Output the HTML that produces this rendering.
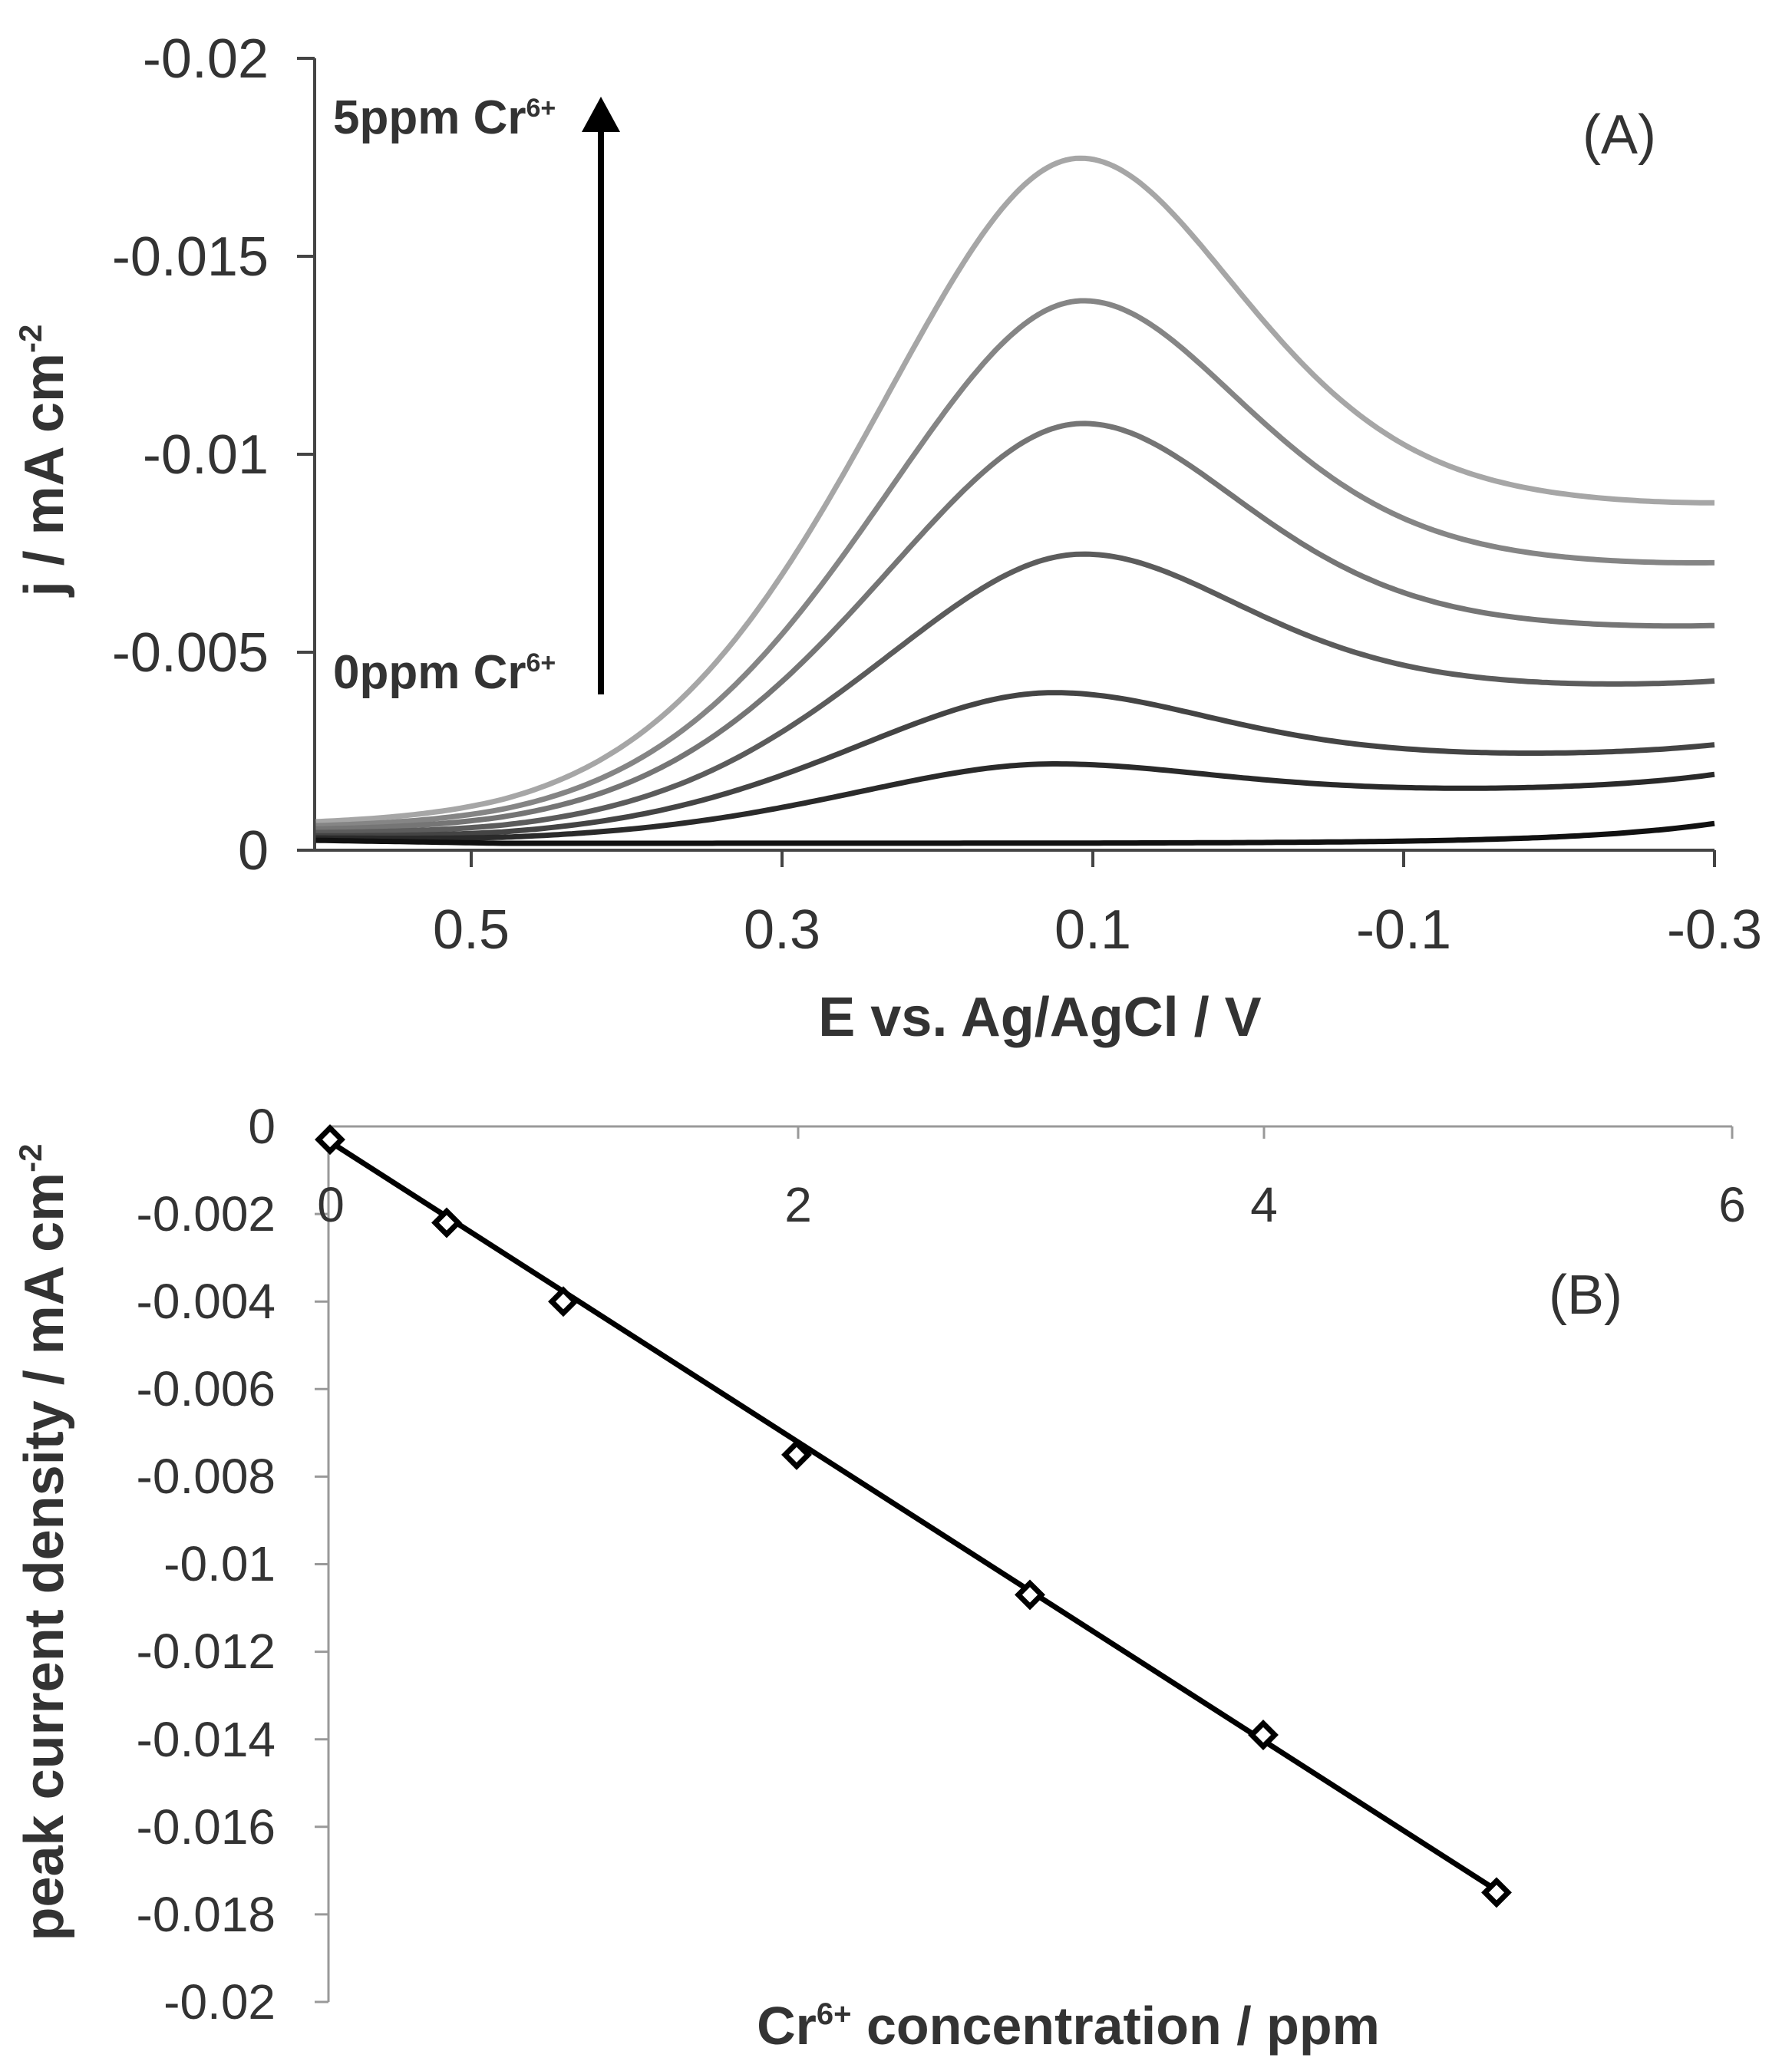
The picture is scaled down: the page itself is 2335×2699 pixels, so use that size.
<!DOCTYPE html>
<html><head><meta charset="utf-8"><style>
html,body{margin:0;padding:0;background:#fff}
svg{display:block}
text{font-family:"Liberation Sans",Arial,sans-serif}
</style></head><body>
<svg id="s" width="2335" height="2699" viewBox="0 0 2335 2699" xmlns="http://www.w3.org/2000/svg">
<rect width="2335" height="2699" fill="#fff"/>
<g stroke="#444" stroke-width="4" fill="none">
<line x1="410" y1="76" x2="410" y2="1108"/>
<line x1="387" y1="1108" x2="2234" y2="1108"/>
<line x1="387" y1="76" x2="410" y2="76"/>
<line x1="387" y1="334" x2="410" y2="334"/>
<line x1="387" y1="592" x2="410" y2="592"/>
<line x1="387" y1="850" x2="410" y2="850"/>
<line x1="614" y1="1108" x2="614" y2="1130"/>
<line x1="1019" y1="1108" x2="1019" y2="1130"/>
<line x1="1424" y1="1108" x2="1424" y2="1130"/>
<line x1="1829" y1="1108" x2="1829" y2="1130"/>
<line x1="2234" y1="1108" x2="2234" y2="1130"/>
</g>
<g font-size="72" fill="#333" text-anchor="end">
<text x="350" y="101">-0.02</text>
<text x="350" y="359">-0.015</text>
<text x="350" y="617">-0.01</text>
<text x="350" y="875">-0.005</text>
<text x="350" y="1133">0</text>
</g>
<g font-size="72" fill="#333" text-anchor="middle">
<text x="614" y="1236">0.5</text>
<text x="1019" y="1236">0.3</text>
<text x="1424" y="1236">0.1</text>
<text x="1829" y="1236">-0.1</text>
<text x="2234" y="1236">-0.3</text>
</g>
<text x="1355" y="1350" font-size="72" font-weight="bold" fill="#333" text-anchor="middle">E vs. Ag/AgCl / V</text>
<text transform="translate(82,600) rotate(-90)" font-size="72" font-weight="bold" fill="#333" text-anchor="middle">j / mA cm<tspan dy="-28" font-size="42">-2</tspan></text>
<text x="2110" y="200" font-size="72" fill="#333" text-anchor="middle">(A)</text>
<text x="434" y="174" font-size="62" font-weight="bold" fill="#333">5ppm Cr<tspan dy="-22" font-size="34">6+</tspan></text>
<text x="434" y="897" font-size="62" font-weight="bold" fill="#333">0ppm Cr<tspan dy="-22" font-size="34">6+</tspan></text>
<line x1="783" y1="165" x2="783" y2="905" stroke="#000" stroke-width="8"/>
<polygon points="783,126 758,172 808,172" fill="#000"/>
<g id="curves" fill="none" stroke-width="7" stroke-linejoin="round"></g>

<g stroke="#999" stroke-width="3" fill="none">
<line x1="428" y1="1468" x2="428" y2="2609"/>
<line x1="428" y1="1468" x2="2257" y2="1468"/>
<line x1="1040" y1="1468" x2="1040" y2="1484"/>
<line x1="1647" y1="1468" x2="1647" y2="1484"/>
<line x1="2257" y1="1468" x2="2257" y2="1484"/>
</g>
<g id="bticks" stroke="#999" stroke-width="3"></g>
<g font-size="64" fill="#333" text-anchor="end">
<text x="359" y="1490">0</text>
<text x="359" y="1604">-0.002</text>
<text x="359" y="1718">-0.004</text>
<text x="359" y="1832">-0.006</text>
<text x="359" y="1946">-0.008</text>
<text x="359" y="2060">-0.01</text>
<text x="359" y="2174">-0.012</text>
<text x="359" y="2289">-0.014</text>
<text x="359" y="2403">-0.016</text>
<text x="359" y="2517">-0.018</text>
<text x="359" y="2631">-0.02</text>
</g>
<g font-size="64" fill="#333" text-anchor="middle">
<text x="431" y="1592">0</text>
<text x="1040" y="1592">2</text>
<text x="1647" y="1592">4</text>
<text x="2257" y="1592">6</text>
</g>
<text x="2066" y="1712" font-size="72" fill="#333" text-anchor="middle">(B)</text>
<text x="1392" y="2664" font-size="70" font-weight="bold" fill="#333" text-anchor="middle">Cr<tspan dy="-26" font-size="40">6+</tspan><tspan dy="26"> concentration / ppm</tspan></text>
<text transform="translate(82,2010) rotate(-90)" font-size="72" font-weight="bold" fill="#333" text-anchor="middle">peak current density / mA cm<tspan dy="-28" font-size="42">-2</tspan></text>
<line x1="430" y1="1488" x2="1954" y2="2466" stroke="#000" stroke-width="7"/>
<g id="pts" fill="#fff" stroke="#000" stroke-width="7"></g>
</svg>
<script>
(function(){
var NS="http://www.w3.org/2000/svg";
function X(E){return 614+(0.5-E)/0.2*405;}
function Y(p){return 1108-51600*p;}
var cs=[
 {A:0.0173,T:0.0079,k:0.0002,E0:0.108,c:"#a6a6a6"},
 {A:0.0137,T:0.0065,k:0.0002,E0:0.106,c:"#858585"},
 {A:0.0106,T:0.0050,k:0.0002,E0:0.106,c:"#757575"},
 {A:0.0073,T:0.0036,k:0.0003,E0:0.106,c:"#5c5c5c"},
 {A:0.0038,T:0.0020,k:0.0004,E0:0.125,c:"#444"},
 {A:0.0020,T:0.0012,k:0.0005,E0:0.125,c:"#2a2a2a"},
 {A:0.0,T:0.0,k:0.0005,E0:0.1,c:"#111"}
];
function pv(d,wg,wl,m){return (1-m)*Math.exp(-(d/wg)*(d/wg))+m/(1+(d/wl)*(d/wl));}
var g=document.getElementById("curves");
cs.forEach(function(c){
 var d="";
 for(var i=0;i<=300;i++){
  var E=0.6-0.9*i/300,p;
  if(E>=c.E0){p=c.A*pv(E-c.E0,0.2,0.15,0.3);}
  else{p=c.T+(c.A-c.T)*pv(c.E0-E,0.15,0.14,0.5);}
  var ramp=Math.min(1,(0.6-E)/0.12);
  p+=c.k*Math.exp(-(E+0.3)/0.09)+0.00025*(1-0.3*ramp);
  d+=(i?"L":"M")+X(E).toFixed(1)+","+Y(p).toFixed(1);
 }
 var el=document.createElementNS(NS,"path");
 el.setAttribute("d",d);el.setAttribute("stroke",c.c);g.appendChild(el);
});
var bt=document.getElementById("bticks");
for(var i=1;i<=10;i++){var y=1468+i*114.1;var l=document.createElementNS(NS,"line");
 l.setAttribute("x1",410);l.setAttribute("x2",428);l.setAttribute("y1",y);l.setAttribute("y2",y);bt.appendChild(l);}
var pts=[[0,-0.0003],[0.5,-0.0022],[1,-0.004],[2,-0.0075],[3,-0.0107],[4,-0.0139],[5,-0.0175]];
var pg=document.getElementById("pts");
pts.forEach(function(q){var x=430+q[0]*304,y=1468-q[1]/0.002*114.1;
 var e=document.createElementNS(NS,"polygon");
 e.setAttribute("points",x+","+(y-15)+" "+(x+15)+","+y+" "+x+","+(y+15)+" "+(x-15)+","+y);
 pg.appendChild(e);});
})();
</script>
</body></html>
